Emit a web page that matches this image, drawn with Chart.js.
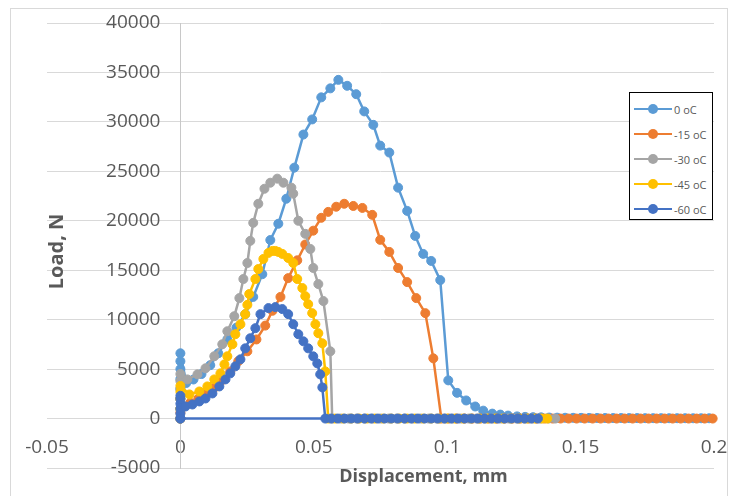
<!DOCTYPE html>
<html>
<head>
<meta charset="utf-8">
<script src="https://cdn.jsdelivr.net/npm/chart.js@4.4.0/dist/chart.umd.min.js"></script>
<style>
  body { margin: 0; background: #fff; }
  #wrap { position: relative; width: 730px; height: 496px; overflow: hidden; }
  #frame { position: absolute; left: 10px; top: 8px; width: 716px; height: 500px; border: 1px solid #d9d9d9; }
  canvas { position: absolute; left: 0; top: 0; }
  #legend { position: absolute; left: 629px; top: 92px; width: 82px; height: 126px; border: 1.5px solid #000; background: #fff; font: 11px 'Open Sans', sans-serif; color: #595959; }
  .item { position: absolute; left: 4px; height: 14px; display: flex; align-items: center; white-space: nowrap; }
  .swatch { position: relative; width: 38px; height: 10px; margin-right: 2px; }
  .swatch .ln { position: absolute; left: 0; right: 0; top: 4px; height: 2px; }
  .swatch .dot { position: absolute; left: 14px; top: 0; width: 10px; height: 10px; border-radius: 50%; }
</style>
</head>
<body>
<div id="wrap">
  <div id="frame"></div>
  <canvas id="myChart" width="730" height="496"></canvas>
  <div id="legend"></div>
</div>
<script>
/* data */
const labels = ['0 oC', '-15 oC', '-30 oC', '-45 oC', '-60 oC'];
const colors = ['#5B9BD5', '#ED7D31', '#A5A5A5', '#FFC000', '#4472C4'];

const xTicks = [-0.05, 0, 0.05, 0.1, 0.15, 0.2];
const yTicks = [-5000, 0, 5000, 10000, 15000, 20000, 25000, 30000, 35000, 40000];

const blueX = [0, 0, 0, 0, 0, 0, 0, 0, 0.0022, 0.0049, 0.0079, 0.0112, 0.0142, 0.0176, 0.021, 0.0243, 0.0273, 0.0307,
  0.0337, 0.0367, 0.0397, 0.0427, 0.0461, 0.0494, 0.0528, 0.0562, 0.0592, 0.0625, 0.0659, 0.0689, 0.0723, 0.0749,
  0.0783, 0.0816, 0.085, 0.088, 0.091, 0.094, 0.0974, 0.1004, 0.1037, 0.1071, 0.1105, 0.1135, 0.1169, 0.1199, 0.1228,
  0.1262, 0.1292, 0.1322, 0.1352, 0.1382, 0.1412, 0.1442, 0.1472, 0.1502, 0.1532, 0.1562, 0.1592, 0.1622, 0.1652,
  0.1682, 0.1712, 0.1742, 0.1772, 0.1802, 0.1832, 0.1862, 0.1892, 0.1922, 0.1952, 0.1982];
const blueY = [0, 1000, 2000, 3000, 4000, 5000, 5800, 6600, 3600, 3950, 4500, 5400, 6600, 8000, 9200, 10560, 12300, 14600,
  18050, 19700, 22230, 25375, 28720, 30250, 32480, 33390, 34250, 33650, 32800, 31060, 29700, 27600,
  26900, 23350, 21000, 18470, 16650, 15940, 14000, 3860, 2600, 1830, 1220, 800, 500, 400, 300,
  220, 170, 140, 120, 100, 90, 80, 75, 70, 65, 60, 55, 50, 50,
  45, 45, 40, 40, 40, 35, 35, 35, 30, 30, 30];

const orangeX = [0, 0, 0.0037, 0.0067, 0.0097, 0.0127, 0.0157, 0.0187, 0.0217, 0.0251, 0.0285, 0.0318, 0.0345, 0.0375,
  0.0404, 0.0438, 0.0468, 0.0498, 0.0528, 0.0554, 0.0584, 0.0614, 0.0648, 0.0682, 0.0719, 0.0749, 0.0783, 0.0816,
  0.085, 0.0884, 0.0918, 0.0948, 0.0978, 0.1005, 0.1035, 0.1065, 0.1095, 0.1125, 0.1155, 0.1185, 0.1215, 0.1245,
  0.1275, 0.1305, 0.1335, 0.1365, 0.1395, 0.1425, 0.1455, 0.1485, 0.1515, 0.1545, 0.1575, 0.1605, 0.1635, 0.1665,
  0.1695, 0.1725, 0.1755, 0.1785, 0.1815, 0.1845, 0.1875, 0.1905, 0.1935, 0.1965, 0.1995];
const orangeY = [0, 600, 1600, 2000, 2500, 3100, 3900, 4770, 5800, 6800, 8000, 9400, 10900, 12300,
  14200, 16000, 17600, 19000, 20300, 20900, 21420, 21720, 21500, 21300, 20600, 18070, 16850, 15230,
  13800, 12180, 10660, 6090, 0, 0, 0, 0, 0, 0, 0, 0, 0, 0,
  0, 0, 0, 0, 0, 0, 0, 0, 0, 0, 0, 0, 0, 0,
  0, 0, 0, 0, 0, 0, 0, 0, 0, 0, 0];

const grayX = [0, 0, 0, 0, 0, 0, 0.0026, 0.0064, 0.0094, 0.0127, 0.0157, 0.0176, 0.0202, 0.0221, 0.0236, 0.0251,
  0.0262, 0.0273, 0.0292, 0.0315, 0.0337, 0.0363, 0.0386, 0.0416, 0.0423, 0.0442, 0.0468, 0.0487, 0.0498, 0.0517,
  0.0536, 0.0562, 0.0569, 0.060, 0.063, 0.066, 0.069, 0.072, 0.075, 0.078, 0.081, 0.084, 0.087, 0.090, 0.093, 0.096,
  0.099, 0.102, 0.105, 0.108, 0.111, 0.114, 0.117, 0.120, 0.123, 0.126, 0.129, 0.132, 0.135, 0.138, 0.1405];
const grayY = [0, 1000, 2000, 3000, 3800, 4500, 3960, 4470, 5080, 6300, 7510, 8830, 10350, 12180, 14110, 15730,
  17970, 19790, 21720, 23240, 23850, 24260, 23850, 23350, 22740, 20000, 18680, 17150, 15230, 13600,
  11880, 6800, 0, 0, 0, 0, 0, 0, 0, 0, 0, 0, 0, 0, 0, 0,
  0, 0, 0, 0, 0, 0, 0, 0, 0, 0, 0, 0, 0, 0, 0];

const yellowX = [0, 0, 0, 0, 0, 0.0034, 0.0071, 0.0101, 0.0127, 0.015, 0.0165, 0.0176, 0.0195, 0.0206, 0.0225, 0.0243,
  0.0251, 0.0258, 0.0281, 0.0292, 0.0311, 0.033, 0.0345, 0.0356, 0.0367, 0.0382, 0.0404, 0.0423, 0.0438, 0.0457,
  0.0468, 0.0479, 0.0494, 0.0506, 0.0517, 0.0532, 0.0543, 0.0554, 0.058, 0.061, 0.064, 0.067, 0.070, 0.073, 0.076,
  0.079, 0.082, 0.085, 0.088, 0.091, 0.094, 0.097, 0.100, 0.103, 0.106, 0.109, 0.112, 0.115, 0.118, 0.121, 0.124,
  0.127, 0.130, 0.133, 0.1355, 0.1375];
const yellowY = [0, 1000, 2000, 2700, 3300, 2440, 2740, 3250, 3960, 4570, 5480, 6300, 7510, 8530, 9540, 10560,
  11500, 12590, 14110, 15120, 16140, 16750, 16950, 16950, 16850, 16650, 16240, 15730, 14110, 13200,
  12380, 11570, 10660, 9540, 8630, 7610, 4770, 0, 0, 0, 0, 0, 0, 0, 0,
  0, 0, 0, 0, 0, 0, 0, 0, 0, 0, 0, 0, 0, 0, 0, 0,
  0, 0, 0, 0, 0];

const navyX = [0, 0, 0, 0, 0, 0, 0.0019, 0.0045, 0.0071, 0.0094, 0.012, 0.0146, 0.0169, 0.0187, 0.0206, 0.0225,
  0.0243, 0.0262, 0.0281, 0.03, 0.033, 0.0356, 0.0382, 0.0404, 0.0423, 0.0442, 0.0461, 0.0479, 0.0498, 0.0513,
  0.0524, 0.0532, 0.0543, 0.0565, 0.059, 0.0615, 0.064, 0.0665, 0.069, 0.0715, 0.074, 0.0765, 0.079, 0.0815,
  0.084, 0.0865, 0.089, 0.0915, 0.094, 0.0965, 0.099, 0.1015, 0.104, 0.1065, 0.109, 0.1115, 0.114, 0.1165,
  0.119, 0.1215, 0.124, 0.1265, 0.129, 0.1315, 0.134, 0];
const navyY = [0, 500, 1000, 1500, 2000, 2300, 1220, 1420, 1730, 2030, 2540, 3250, 3960, 4570, 5280, 5990,
  7100, 8120, 9140, 10560, 11170, 11270, 11070, 10560, 9540, 8530, 7810, 7100, 6290, 5580,
  4470, 3150, 0, 0, 0, 0, 0, 0, 0, 0, 0, 0, 0, 0,
  0, 0, 0, 0, 0, 0, 0, 0, 0, 0, 0, 0, 0, 0,
  0, 0, 0, 0, 0, 0, 0, 0];

const seriesX = [blueX, orangeX, grayX, yellowX, navyX];
const seriesY = [blueY, orangeY, grayY, yellowY, navyY];

function toPoints(xs, ys) {
  return xs.map(function (x, i) { return { x: x, y: ys[i] }; });
}

/* chart */
Chart.defaults.font.family = "'Open Sans', sans-serif";
Chart.defaults.font.size = 19;
Chart.defaults.color = '#595959';

// axis titles sit inside the plot like in excel
const axisTitles = {
  id: 'axisTitles',
  afterDraw(chart) {
    const a = chart.chartArea;
    const ctx = chart.ctx;
    ctx.save();
    ctx.fillStyle = '#595959';
    ctx.textAlign = 'center';
    ctx.textBaseline = 'middle';
    ctx.font = "bold 18px 'Open Sans', sans-serif";
    ctx.fillText('Displacement, mm', (a.left + a.right) / 2 + 43, a.bottom + 9);
    ctx.font = "bold 20px 'Open Sans', sans-serif";
    ctx.translate(a.left + 10, (a.top + a.bottom) / 2 + 6);
    ctx.rotate(-Math.PI / 2);
    ctx.fillText('Load, N', 0, 0);
    ctx.restore();
  }
};

// y labels of an axis placed at x=0 get no padding, push them left
const yLabelGap = {
  id: 'yLabelGap',
  beforeDraw(chart) {
    chart.scales.y.getLabelItems(chart.chartArea).forEach(function (it) {
      if (!it.moved) {
        it.options.translation[0] -= 20;
        it.moved = true;
      }
    });
  }
};

var ctx = document.getElementById('myChart').getContext('2d');
new Chart(ctx, {
  type: 'scatter',
  data: {
    datasets: labels.map(function (label, i) {
      return {
        label: label,
        data: toPoints(seriesX[i], seriesY[i]),
        showLine: true,
        borderColor: colors[i],
        backgroundColor: colors[i],
        borderWidth: 2.5,
        pointRadius: 4.5,
        pointBorderWidth: 1,
        pointHoverRadius: 4.5,
        order: labels.length - i,
        clip: 8,
      };
    }),
  },
  options: {
    responsive: false,
    animation: false,
    events: [],
    layout: { padding: { left: 47, right: 16, top: 23, bottom: 28 } },
    plugins: { legend: { display: false }, tooltip: { enabled: false } },
    scales: {
      x: {
        type: 'linear',
        min: -0.05,
        max: 0.2,
        position: { y: 0 },
        afterFit: function (scale) {
          scale.height = 0;
          scale.paddingLeft = 0;
          scale.paddingRight = 0;
        },
        afterBuildTicks: function (scale) { scale.ticks = xTicks.map(function (v) { return { value: v }; }); },
        grid: { display: false, drawTicks: false },
        border: { display: true, color: '#d9d9d9' },
        ticks: {
          padding: 18,
          maxRotation: 0,
          autoSkip: false,
          callback: function (v) { return String(Math.round(v * 100) / 100); },
        },
      },
      y: {
        type: 'linear',
        min: -5000,
        max: 40000,
        position: { x: 0 },
        afterFit: function (scale) {
          scale.width = 0;
          scale.paddingTop = 0;
          scale.paddingBottom = 0;
        },
        afterBuildTicks: function (scale) { scale.ticks = yTicks.map(function (v) { return { value: v }; }); },
        grid: { color: '#d9d9d9', drawTicks: false },
        border: { display: true, color: '#c8c8c8' },
        ticks: {
          autoSkip: false,
          callback: function (v) { return String(v); },
        },
      },
    },
  },
  plugins: [axisTitles, yLabelGap],
});

/* legend */
var legend = document.getElementById('legend');
labels.forEach(function (label, i) {
  var item = document.createElement('div');
  item.className = 'item';
  item.style.top = (9 + i * 25) + 'px';
  item.innerHTML = '<span class="swatch"><span class="ln" style="background:' + colors[i] + '"></span>' +
    '<span class="dot" style="background:' + colors[i] + '"></span></span>' + label;
  legend.appendChild(item);
});
</script>
</body>
</html>
